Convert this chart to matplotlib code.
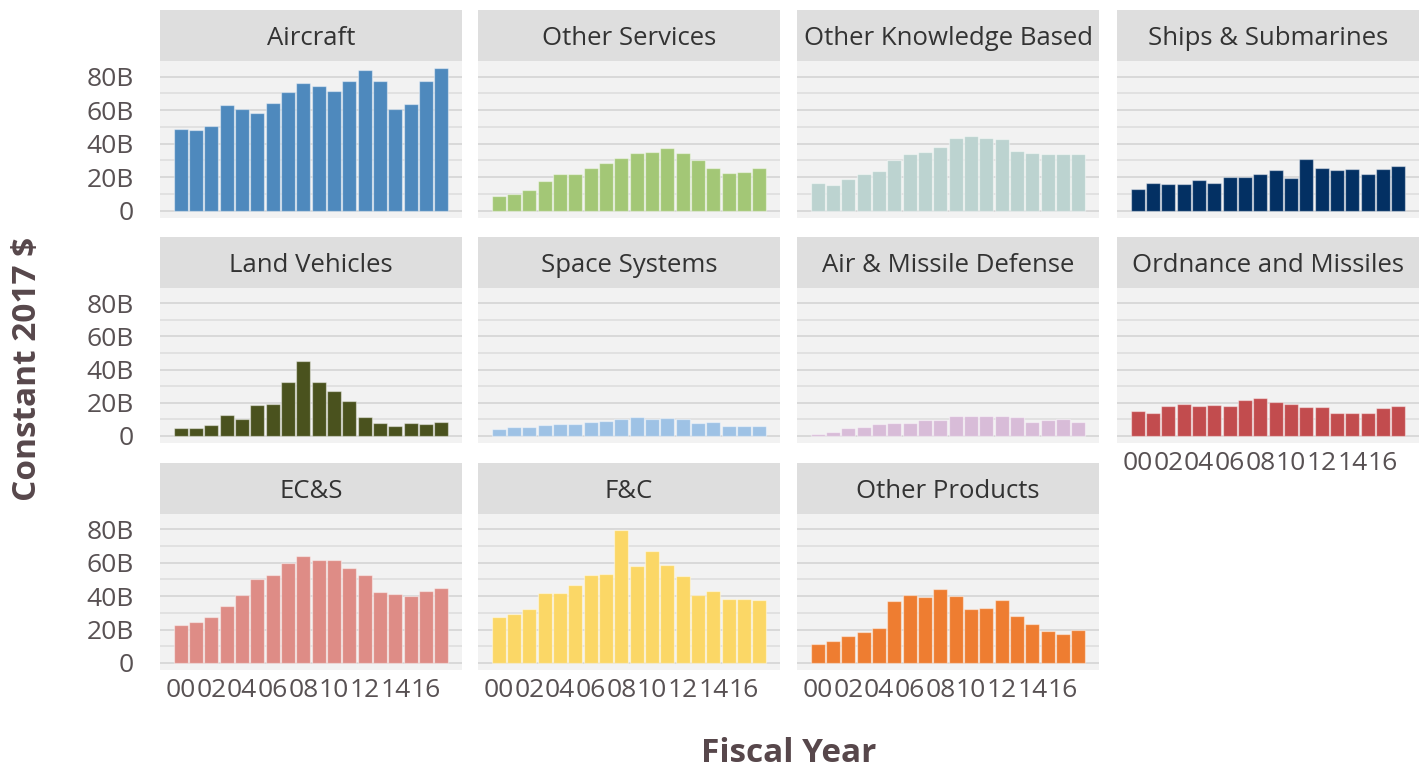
import matplotlib
matplotlib.use("Agg")
import matplotlib.pyplot as plt
import numpy as np

plt.rcParams['font.family'] = ['Open Sans', 'DejaVu Sans']

years = list(range(2000, 2018))
xtick_years = [2000, 2002, 2004, 2006, 2008, 2010, 2012, 2014, 2016]
xtick_labels = ["00", "02", "04", "06", "08", "10", "12", "14", "16"]
ytick_vals = [0, 20, 40, 60, 80]
ytick_labels = ["0", "20B", "40B", "60B", "80B"]

categories = ["Aircraft", "Other Services", "Other Knowledge Based", "Ships & Submarines",
              "Land Vehicles", "Space Systems", "Air & Missile Defense", "Ordnance and Missiles",
              "EC&S", "F&C", "Other Products"]

aircraft = [48.8, 48.0, 50.8, 63.0, 60.4, 58.2, 64.0, 70.6, 76.4, 74.6, 71.4, 77.2, 84.0, 77.6, 60.4, 63.6, 77.2, 85.0]
other_services = [9.0, 10.0, 12.4, 17.8, 22.2, 22.2, 25.4, 28.4, 31.2, 34.2, 35.2, 37.2, 34.2, 30.2, 25.8, 22.6, 23.4, 25.4]
other_knowledge = [16.4, 15.6, 19.2, 22.2, 24.0, 30.2, 33.6, 35.0, 38.2, 43.6, 44.8, 43.6, 43.0, 35.6, 34.6, 34.0, 33.6, 34.0]
ships = [12.8, 16.8, 15.8, 15.8, 18.2, 16.8, 20.0, 20.0, 21.8, 24.4, 19.6, 31.0, 25.6, 24.4, 25.0, 22.2, 25.0, 27.0]
land_vehicles = [4.6, 4.6, 6.4, 12.6, 10.4, 18.8, 19.4, 32.6, 45.2, 32.6, 27.4, 21.0, 11.4, 7.8, 6.0, 7.8, 7.4, 8.2]
space_systems = [4.0, 5.2, 5.6, 6.6, 7.4, 7.4, 8.6, 9.0, 10.4, 11.4, 10.0, 11.0, 10.4, 7.8, 8.2, 6.0, 6.0, 6.0]
air_missile = [1.0, 2.4, 4.6, 5.2, 7.4, 7.8, 7.8, 9.6, 9.6, 11.8, 11.8, 11.8, 11.8, 11.4, 8.6, 9.6, 10.0, 8.6]
ordnance = [14.8, 14.0, 18.0, 19.0, 18.0, 18.4, 18.0, 21.6, 22.6, 20.6, 19.4, 17.2, 17.2, 14.0, 13.6, 13.6, 16.6, 18.0]
ecs = [22.8, 24.6, 27.6, 34.4, 40.6, 50.2, 52.8, 59.6, 64.0, 61.8, 61.8, 57.0, 52.6, 42.6, 41.4, 40.2, 43.2, 44.6]
fc = [27.4, 29.2, 32.4, 41.8, 41.8, 46.6, 52.4, 53.2, 79.8, 58.0, 67.0, 58.6, 52.0, 40.8, 43.0, 38.6, 38.2, 37.6]
other_products = [11.6, 13.4, 16.0, 18.6, 21.2, 37.4, 40.6, 39.6, 44.4, 40.0, 32.4, 32.8, 37.8, 28.0, 23.2, 19.2, 17.4, 19.6]

series = [aircraft, other_services, other_knowledge, ships, land_vehicles, space_systems,
          air_missile, ordnance, ecs, fc, other_products]
colors = ["#4E89BD", "#A3C776", "#BCD3D0", "#033063", "#4A521E", "#9EC2E5",
          "#D8BCD8", "#C24C4E", "#DE8C86", "#FBD766", "#EE7D31"]

W, H = 1428, 771
fig = plt.figure(figsize=(W / 100, H / 100), dpi=100)
fig.patch.set_facecolor("white")

col_left = [160, 478, 797, 1117]
panel_w = 302
row_strip_top = [10, 237, 463]
strip_h = 51
row_panel_bottom = [218, 443, 670]

tick_color = "#585153"
title_color = "#57474B"
xmin, xmax = 1998.65, 2018.35
ymax_all = max(max(s) for s in series)
ylo, yhi = -0.05 * ymax_all, 1.05 * ymax_all

for i, (name, vals, col) in enumerate(zip(categories, series, colors)):
    r, c = divmod(i, 4)
    x0 = col_left[c]
    ptop = row_strip_top[r] + strip_h
    pbot = row_panel_bottom[r]
    ax = fig.add_axes([x0 / W, 1 - pbot / H, panel_w / W, (pbot - ptop) / H])
    ax.set_facecolor("#F2F2F2")
    for sp in ax.spines.values():
        sp.set_visible(False)
    ax.set_xlim(xmin, xmax)
    ax.set_ylim(ylo, yhi)
    ax.set_yticks(ytick_vals)
    ax.set_yticks([10, 30, 50, 70], minor=True)
    ax.grid(axis="y", which="major", color="#D9D9D9", linewidth=1.4)
    ax.grid(axis="y", which="minor", color="#DCDCDC", linewidth=1.1)
    ax.grid(axis="x", visible=False)
    ax.set_axisbelow(True)
    ax.bar(years, vals, width=0.9, color=col, edgecolor=(1, 1, 1, 0.45), linewidth=0.9)
    ax.tick_params(axis="both", which="both", length=0, colors=tick_color, labelsize=19)
    ax.tick_params(axis="y", pad=19)
    ax.tick_params(axis="x", pad=6)
    ax.set_xticks(xtick_years)
    if c == 0:
        ax.set_yticklabels(ytick_labels)
    else:
        ax.set_yticklabels([])
    bottom_of_col = (i + 4 >= len(categories))
    if bottom_of_col:
        ax.set_xticklabels(xtick_labels)
    else:
        ax.set_xticklabels([])
    # strip
    sax = fig.add_axes([x0 / W, 1 - ptop / H, panel_w / W, strip_h / H])
    sax.set_facecolor("#DEDEDE")
    sax.set_xticks([])
    sax.set_yticks([])
    for sp in sax.spines.values():
        sp.set_visible(False)
    sax.text(0.5, 0.5, name, ha="center", va="center_baseline", fontsize=18.5, color="#333333",
             transform=sax.transAxes)

fig.text(789 / W, 1 - 754 / H, "Fiscal Year", ha="center", va="center", fontsize=24,
         fontweight="bold", color=title_color)
fig.text(28 / W, 1 - 369 / H, "Constant 2017 $", ha="center", va="center", fontsize=24,
         fontweight="bold", color=title_color, rotation=90)

fig.savefig("out.png", dpi=100, facecolor="white")
